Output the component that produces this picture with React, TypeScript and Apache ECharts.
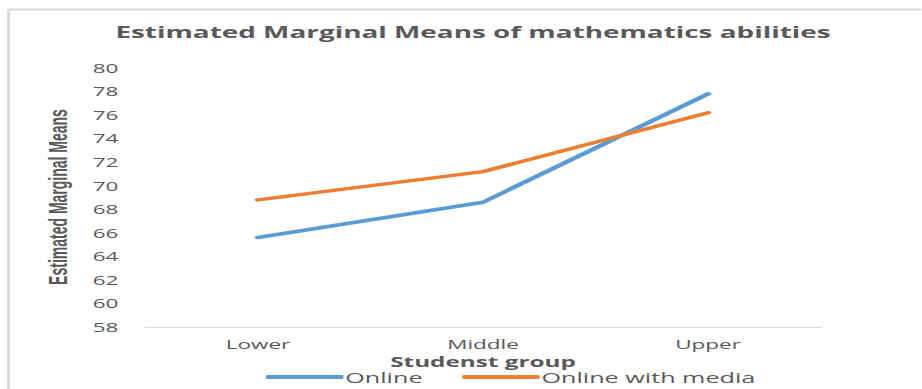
import React, { useEffect, useRef } from "react";
import * as echarts from "echarts";

const categories = ["Lower", "Middle", "Upper"];
const onlineValues = [65.6, 68.6, 77.8];
const mediaValues = [68.8, 71.2, 76.2];
const seriesNames = ["Online", "Online with media"];
const titleText = "Estimated Marginal Means of mathematics abilities";
const yAxisTitle = "Estimated Marginal Means";
const xAxisTitle = "Studenst group";

const S = 1.8; // horizontal stretch of the reference picture
const W = 922 / S;
const H = 389;

export default function App() {
  const ref = useRef<HTMLDivElement>(null);
  useEffect(() => {
    if (!ref.current) return;
    const chart = echarts.init(ref.current, null, { renderer: "svg" });
    chart.setOption({
      animation: false,
      backgroundColor: "#ffffff",
      grid: { left: 80.8, right: W - 821 / S, top: 68, bottom: H - 327 },
      xAxis: {
        type: "category",
        data: categories,
        boundaryGap: true,
        axisLine: { show: true, lineStyle: { color: "#d9d9d9", width: 1.2 } },
        axisTick: { show: false },
        axisLabel: {
          color: "#595959",
          fontFamily: "Open Sans",
          fontSize: 12.5,
          margin: 11,
        },
        splitLine: { show: false },
      },
      yAxis: {
        type: "value",
        min: 58,
        max: 80,
        interval: 2,
        axisLine: { show: false },
        axisTick: { show: false },
        splitLine: { show: false },
        axisLabel: {
          color: "#595959",
          fontFamily: "Open Sans",
          fontSize: 12.5,
          margin: 15,
        },
      },
      legend: {
        data: seriesNames,
        left: 266 / S,
        top: 369,
        itemGap: 22,
        itemWidth: 43,
        itemHeight: 4,
        padding: 0,
        icon: "roundRect",
        textStyle: {
          color: "#595959",
          fontFamily: "Open Sans",
          fontSize: 14,
          lineHeight: 16,
          padding: [0, 0, 0, -4],
        },
      },
      series: [
        {
          name: seriesNames[0],
          type: "line",
          data: onlineValues,
          symbol: "none",
          color: "#5b9bd5",
          lineStyle: { color: "#5b9bd5", width: 3.5, cap: "round", join: "round" },
        },
        {
          name: seriesNames[1],
          type: "line",
          data: mediaValues,
          symbol: "none",
          color: "#ed7d31",
          lineStyle: { color: "#ed7d31", width: 3.5, cap: "round", join: "round" },
        },
      ],
      graphic: [
        {
          type: "line",
          shape: { x1: 8 / S, y1: 9.5, x2: W, y2: 9.5 },
          style: { stroke: "#d9d9d9", lineWidth: 2 },
          silent: true,
        },
        {
          type: "line",
          shape: { x1: 8.5 / S, y1: 9.5, x2: 8.5 / S, y2: H },
          style: { stroke: "#d9d9d9", lineWidth: 1.6 },
          silent: true,
        },
        {
          type: "text",
          x: 473 / S,
          y: 32,
          style: {
            text: titleText,
            fill: "#595959",
            font: "bold 15.5px 'Open Sans'",
            textAlign: "center",
            textVerticalAlign: "middle",
          },
        },
        {
          type: "text",
          x: 58 / S,
          y: 197,
          rotation: Math.PI / 2,
          style: {
            text: yAxisTitle,
            fill: "#595959",
            font: "bold 14px 'Liberation Sans Narrow', 'Liberation Sans'",
            textAlign: "center",
            textVerticalAlign: "middle",
          },
        },
        {
          type: "text",
          x: 483 / S,
          y: 362,
          style: {
            text: xAxisTitle,
            fill: "#595959",
            font: "bold 13.5px 'Open Sans'",
            textAlign: "center",
            textVerticalAlign: "middle",
          },
        },
      ],
    });
    return () => chart.dispose();
  }, []);
  return (
    <div
      style={{
        position: "fixed",
        left: 0,
        top: 0,
        width: 922,
        height: H,
        overflow: "hidden",
        background: "#ffffff",
      }}
    >
      <div
        ref={ref}
        style={{
          width: W,
          height: H,
          transform: `scaleX(${S})`,
          transformOrigin: "0 0",
        }}
      />
    </div>
  );
}
